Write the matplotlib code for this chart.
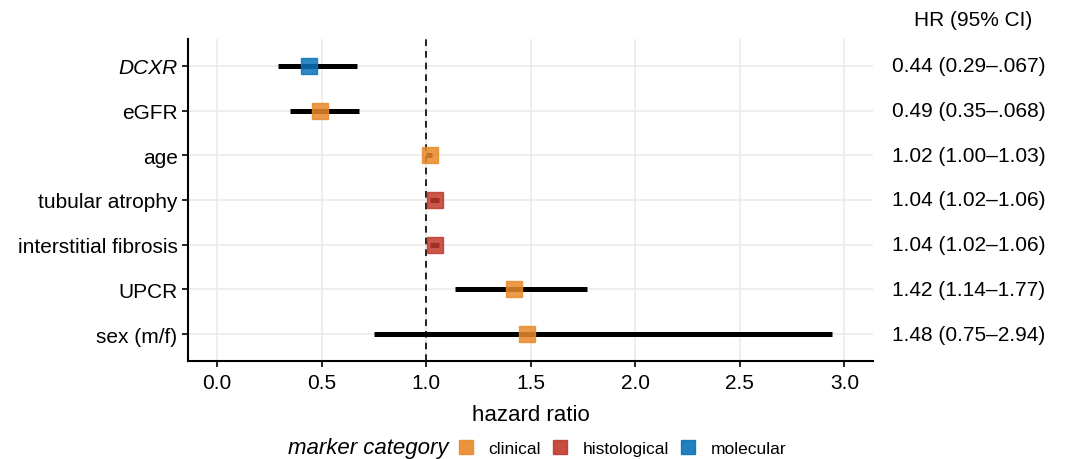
import numpy as np
import matplotlib.pyplot as plt
from matplotlib.lines import Line2D

plt.rcParams['font.family'] = ['Liberation Sans', 'DejaVu Sans']

markers = ['DCXR', 'eGFR', 'age', 'tubular atrophy', 'interstitial fibrosis', 'UPCR', 'sex (m/f)']
hr = [0.44, 0.49, 1.02, 1.04, 1.04, 1.42, 1.48]
ci_low = [0.29, 0.35, 1.00, 1.02, 1.02, 1.14, 0.75]
ci_high = [0.67, 0.68, 1.03, 1.06, 1.06, 1.77, 2.94]
category = ['molecular', 'clinical', 'clinical', 'histological', 'histological', 'clinical', 'clinical']
hr_labels = ['0.44 (0.29\u2013.067)', '0.49 (0.35\u2013.068)', '1.02 (1.00\u20131.03)',
             '1.04 (1.02\u20131.06)', '1.04 (1.02\u20131.06)', '1.42 (1.14\u20131.77)',
             '1.48 (0.75\u20132.94)']

colors = {'clinical': '#E8892A', 'histological': '#C0392B', 'molecular': '#0A72B8'}

fig = plt.figure(figsize=(10.66, 4.6), dpi=100)
ax = fig.add_axes([188 / 1066, 1 - 362 / 460, (873 - 188) / 1066, (362 - 40) / 460])

n = len(markers)
ypos = np.arange(n)[::-1] + 1

ax.grid(True, color='#EBEBEB', lw=1.2, zorder=0)
ax.set_axisbelow(True)
ax.axvline(1.0, color='black', ls=(0, (4, 3)), lw=1.2, zorder=2)

for y, lo, hi in zip(ypos, ci_low, ci_high):
    ax.plot([lo, hi], [y, y], color='black', lw=3.6, solid_capstyle='butt', zorder=3)
for y, h, c in zip(ypos, hr, category):
    ax.plot(h, y, marker='s', ms=11.5, color=colors[c], mec=colors[c], alpha=0.85,
            zorder=4, ls='none')

ax.set_xlim(-0.139, 3.137)
ax.set_ylim(0.4, n + 0.6)
ax.set_xticks(np.arange(0, 3.01, 0.5))
ax.set_xticklabels(['%.1f' % v for v in np.arange(0, 3.01, 0.5)])
ax.set_yticks(ypos)
ax.set_yticklabels(markers)
ax.get_yticklabels()[0].set_style('italic')

for s in ['top', 'right']:
    ax.spines[s].set_visible(False)
for s in ['left', 'bottom']:
    ax.spines[s].set_linewidth(1.5)
ax.tick_params(axis='both', labelsize=15, width=1.2, length=4, color='black', labelcolor='black')
ax.tick_params(axis='x', pad=5)
ax.set_xlabel('hazard ratio', fontsize=16, labelpad=8)

# HR column on the right
fig.text(973 / 1066, 1 - 20 / 460, 'HR (95% CI)', ha='center', va='center', fontsize=15)
for y, lab in zip(ypos, hr_labels):
    ax.annotate(lab, xy=(1.0, y), xycoords=('axes fraction', 'data'), xytext=(69, 0),
                textcoords='offset points', ha='center', va='center', fontsize=15,
                annotation_clip=False)

# legend
handles = [Line2D([], [], marker='s', ls='none', ms=9.5, color=colors[k], alpha=0.9) for k in colors]
fig.text(368 / 1066, 1 - 449 / 460, 'marker category', ha='center', va='center',
         fontsize=16, style='italic')
fig.legend(handles, list(colors), loc='center left', bbox_to_anchor=(458 / 1066, 1 - 449 / 460),
           ncol=3, frameon=False, fontsize=12.5, handlelength=0.9, handletextpad=0.85,
           columnspacing=0.65, borderaxespad=0, borderpad=0)

fig.savefig('out.png', dpi=100)
